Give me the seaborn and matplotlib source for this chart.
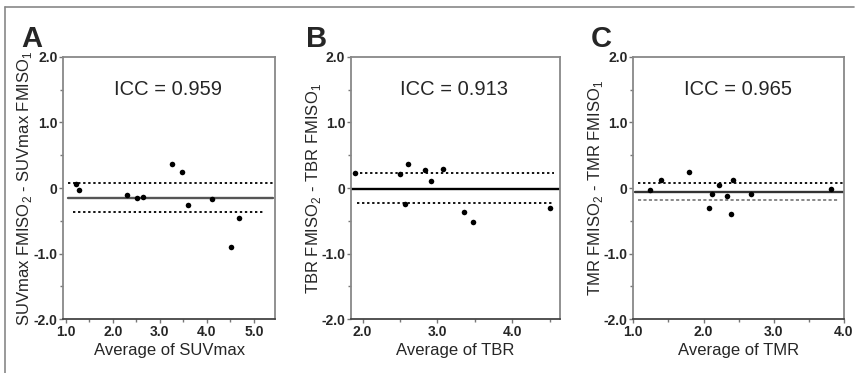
import matplotlib
matplotlib.use("Agg")
import matplotlib.pyplot as plt
import seaborn as sns
import pandas as pd
from matplotlib.lines import Line2D
from matplotlib.ticker import MultipleLocator, FixedLocator

# ---- data ----
suv_avg = [1.23, 1.28, 2.30, 2.52, 2.65, 3.27, 3.48, 3.60, 4.11, 4.51, 4.69]
suv_diff = [0.06, -0.03, -0.11, -0.15, -0.13, 0.37, 0.24, -0.26, -0.16, -0.90, -0.45]
suv_lines = [-0.15, 0.08, -0.37]   # mean, upper LoA, lower LoA

tbr_avg = [1.90, 2.50, 2.56, 2.61, 2.84, 2.92, 3.08, 3.35, 3.48, 4.50]
tbr_diff = [0.23, 0.22, -0.25, 0.37, 0.27, 0.11, 0.29, -0.36, -0.52, -0.31]
tbr_lines = [-0.01, 0.23, -0.23]

tmr_avg = [1.24, 1.39, 1.80, 2.08, 2.12, 2.22, 2.34, 2.39, 2.42, 2.68, 3.81]
tmr_diff = [-0.03, 0.12, 0.24, -0.30, -0.09, 0.05, -0.12, -0.39, 0.12, -0.09, -0.01]
tmr_lines = [-0.06, 0.07, -0.18]

letters = ["A", "B", "C"]
icc_texts = ["ICC = 0.959", "ICC = 0.913", "ICC = 0.965"]
xlabels = ["Average of SUVmax", "Average of TBR", "Average of TMR"]
ylabels = [r"SUVmax FMISO$_\mathregular{2}$ - SUVmax FMISO$_\mathregular{1}$",
           r"TBR FMISO$_\mathregular{2}$ - TBR FMISO$_\mathregular{1}$",
           r"TMR FMISO$_\mathregular{2}$ - TMR FMISO$_\mathregular{1}$"]
xticks = [[1.0, 2.0, 3.0, 4.0, 5.0], [2.0, 3.0, 4.0], [1.0, 2.0, 3.0, 4.0]]
yticks = [-2.0, -1.0, 0.0, 1.0, 2.0]
ytick_labels = ["-2.0", "-1.0", "0", "1.0", "2.0"]

sns.set_style("ticks")
plt.rcParams["font.family"] = ["Liberation Sans", "DejaVu Sans"]
plt.rcParams["mathtext.fontset"] = "custom"
plt.rcParams["mathtext.rm"] = "Liberation Sans"

W, H = 856, 373
fig = plt.figure(figsize=(W / 100, H / 100), dpi=100)

axes_px = [(63.3, 275.0), (350.7, 560.0), (633.3, 844.0)]
top_px, bot_px = 56.7, 319.3
xlims = [(0.95, 5.45), (1.84, 4.64), (1.0, 4.0)]
letter_x = [21, 306, 591]
ylabel_right_px = [34, 323, 605]

panels = [
    (suv_avg, suv_diff, suv_lines),
    (tbr_avg, tbr_diff, tbr_lines),
    (tmr_avg, tmr_diff, tmr_lines),
]
mean_colors = ["#555555", "#000000", "#333333"]
low_styles = [dict(color="#111111", ls=(0, (1.2, 1.4))),
              dict(color="#111111", ls=(0, (1.2, 1.4))),
              dict(color="#888888", ls=(0, (1.6, 1.2)))]
# line x extents (data)
mean_ext = [(1.05, 5.40), (1.84, 4.64), (1.03, 4.0)]
up_ext = [(1.05, 5.40), (1.97, 4.56), (1.07, 4.0)]
low_ext = [(1.15, 5.23), (1.92, 4.56), (1.07, 3.93)]

for i, (xs, ys, lines) in enumerate(panels):
    l, r = axes_px[i]
    ax = fig.add_axes([l / W, 1 - bot_px / H, (r - l) / W, (bot_px - top_px) / H])
    df = pd.DataFrame({"avg": xs, "diff": ys})
    mean, up, low = lines
    ax.plot(mean_ext[i], [mean, mean], color=mean_colors[i], lw=1.7, zorder=2)
    ax.plot(up_ext[i], [up, up], color="#111111", lw=1.4, ls=(0, (1.2, 1.4)), zorder=2)
    ax.plot(low_ext[i], [low, low], lw=1.4, zorder=2, **low_styles[i])
    sns.scatterplot(data=df, x="avg", y="diff", ax=ax, color="black", s=16,
                    edgecolor="black", linewidth=0, zorder=3)
    ax.set_xlim(*xlims[i])
    ax.set_ylim(-2.0, 2.0)
    ax.xaxis.set_major_locator(FixedLocator(xticks[i]))
    ax.set_xticklabels([f"{v:.1f}" for v in xticks[i]])
    ax.xaxis.set_minor_locator(MultipleLocator(0.5))
    ax.set_yticks(yticks)
    ax.set_yticklabels(ytick_labels)
    ax.yaxis.set_minor_locator(MultipleLocator(0.5))
    ax.tick_params(axis="both", which="major", length=3, width=1, color="#777777",
                   labelsize=10, pad=1)
    ax.tick_params(axis="both", which="minor", length=2.5, width=1, color="#777777")
    for lab in ax.get_xticklabels() + ax.get_yticklabels():
        lab.set_fontweight("bold")
    for side in ["left", "right", "top", "bottom"]:
        ax.spines[side].set_visible(True)
        ax.spines[side].set_color("#888888")
        ax.spines[side].set_linewidth(1.3)
    ax.spines["bottom"].set_color("#444444")
    ax.set_xlabel(xlabels[i], fontsize=12, labelpad=3)
    ax.set_ylabel(ylabels[i], fontsize=12)
    ax.yaxis.set_label_coords((ylabel_right_px[i] - l) / (r - l), 0.5)
    ax.text(0.495, 0.875, icc_texts[i], transform=ax.transAxes, ha="center",
            va="center", fontsize=14.5)
    fig.text(letter_x[i] / W, 1 - 47 / H, letters[i], fontsize=21,
             fontweight="bold", ha="left", va="baseline")

# outer frame (top and left edges)
fig.add_artist(Line2D([5 / W, 854 / W], [1 - 6.5 / H, 1 - 6.5 / H],
                      transform=fig.transFigure, color="#888888", lw=1.2))
fig.add_artist(Line2D([5 / W, 5 / W], [0, 1 - 6.5 / H],
                      transform=fig.transFigure, color="#888888", lw=1.2))

fig.savefig("out.png", dpi=100, facecolor="white")
